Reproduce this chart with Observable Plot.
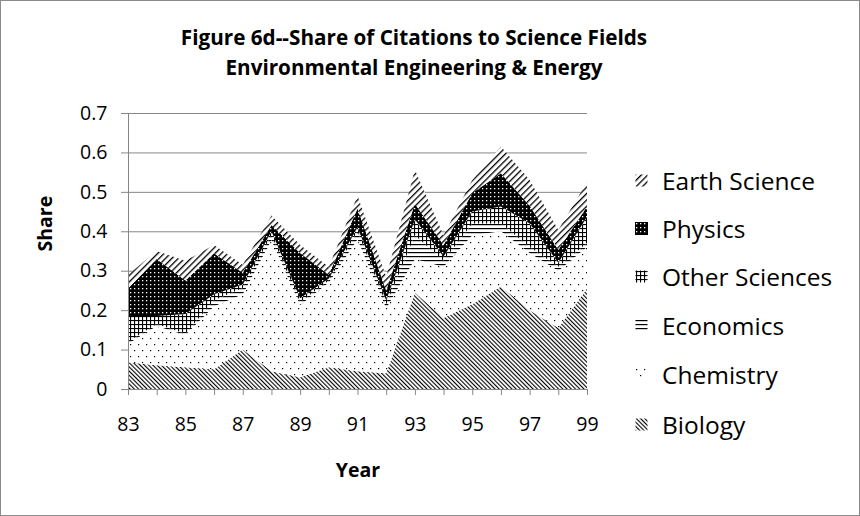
<!DOCTYPE html>
<html>
<head>
<meta charset="utf-8">
<script src="https://cdn.jsdelivr.net/npm/d3@7"></script>
<script src="https://cdn.jsdelivr.net/npm/@observablehq/plot@0.6"></script>
<style>
  html, body { margin: 0; padding: 0; background: #fff; }
  #frame { position: absolute; left: 0; top: 0; width: 858px; height: 514px; border: 1px solid #8a8a8a; background: #fff; font-family: "Open Sans", sans-serif; color: #000; }
  #title { position: absolute; left: 0; width: 826px; top: 21px; text-align: center; font-weight: bold; font-size: 20.7px; line-height: 30px; }
  #chart { position: absolute; left: 0; top: 90px; }
  #legend { position: absolute; left: 634px; top: 0; }
  .item { position: absolute; left: 0; height: 30px; display: flex; align-items: center; white-space: nowrap; font-size: 24.5px; }
  .item svg { margin-right: 14px; }
</style>
</head>
<body>
<div id="frame">
  <div id="title">Figure 6d--Share of Citations to Science Fields<br>Environmental Engineering &amp; Energy</div>
  <div id="chart"></div>
  <div id="legend"></div>
</div>
<script>
// ---- data ----
const years = [83, 84, 85, 86, 87, 88, 89, 90, 91, 92, 93, 94, 95, 96, 97, 98, 99];
const fields = ["Biology", "Chemistry", "Economics", "Other Sciences", "Physics", "Earth Science"];
const biology       = [0.068, 0.060, 0.055, 0.050, 0.100, 0.045, 0.030, 0.055, 0.045, 0.040, 0.245, 0.180, 0.215, 0.260, 0.200, 0.155, 0.255];
const chemistry     = [0.047, 0.100, 0.082, 0.160, 0.140, 0.333, 0.183, 0.215, 0.335, 0.165, 0.085, 0.130, 0.175, 0.140, 0.145, 0.145, 0.105];
const economics     = [0.005, 0.005, 0.003, 0.015, 0.016, 0.012, 0.007, 0.005, 0.020, 0.010, 0.060, 0.015, 0.030, 0.020, 0.015, 0.010, 0.010];
const otherSciences = [0.065, 0.020, 0.050, 0.015, 0.009, 0.010, 0.010, 0.005, 0.010, 0.010, 0.040, 0.011, 0.030, 0.043, 0.060, 0.010, 0.067];
const physics       = [0.070, 0.145, 0.085, 0.104, 0.030, 0.016, 0.115, 0.010, 0.048, 0.025, 0.040, 0.029, 0.047, 0.084, 0.045, 0.033, 0.026];
const earthScience  = [0.035, 0.020, 0.050, 0.021, 0.020, 0.024, 0.020, 0.020, 0.032, 0.035, 0.086, 0.025, 0.033, 0.068, 0.065, 0.050, 0.062];
const yTicks = [0, 0.1, 0.2, 0.3, 0.4, 0.5, 0.6, 0.7];
const legendOrder = ["Earth Science", "Physics", "Other Sciences", "Economics", "Chemistry", "Biology"];

const seriesByField = {
  "Biology": biology, "Chemistry": chemistry, "Economics": economics,
  "Other Sciences": otherSciences, "Physics": physics, "Earth Science": earthScience
};
const patternId = {
  "Biology": "pat-bio", "Chemistry": "pat-chem", "Economics": "pat-econ",
  "Other Sciences": "pat-other", "Physics": "pat-phys", "Earth Science": "pat-earth"
};
const data = years.flatMap((yr, i) => fields.map(f => ({year: yr, field: f, value: seriesByField[f][i]})));

const defs = `
<defs>
  <pattern id="pat-bio" width="3" height="3" patternUnits="userSpaceOnUse" patternTransform="rotate(-45)">
    <rect width="3" height="3" fill="#fff"/><rect x="0" y="0" width="1.1" height="3" fill="#000"/>
  </pattern>
  <pattern id="pat-chem" width="8" height="12" patternUnits="userSpaceOnUse">
    <rect width="8" height="12" fill="#fff"/><rect x="1" y="1" width="1.2" height="1.2" fill="#000"/><rect x="5" y="7" width="1.2" height="1.2" fill="#000"/>
  </pattern>
  <pattern id="pat-econ" width="4" height="4" patternUnits="userSpaceOnUse">
    <rect width="4" height="4" fill="#fff"/><rect x="0" y="1" width="4" height="1.2" fill="#000"/>
  </pattern>
  <pattern id="pat-other" width="4" height="4" patternUnits="userSpaceOnUse">
    <rect width="4" height="4" fill="#fff"/><rect x="0" y="1" width="4" height="1.1" fill="#000"/><rect x="1" y="0" width="1.1" height="4" fill="#000"/>
  </pattern>
  <pattern id="pat-phys" width="4" height="4" patternUnits="userSpaceOnUse">
    <rect width="4" height="4" fill="#000"/><rect x="1" y="1" width="1.3" height="1.3" fill="#fff"/>
  </pattern>
  <pattern id="pat-earth" width="4.5" height="4.5" patternUnits="userSpaceOnUse" patternTransform="rotate(45)">
    <rect width="4.5" height="4.5" fill="#fff"/><rect x="0" y="0" width="1.3" height="4.5" fill="#000"/>
  </pattern>
</defs>`;

const gridColor = "#868686";
const chart = Plot.plot({
  width: 620,
  height: 424,
  marginLeft: 127,
  marginRight: 34,
  marginTop: 22,
  marginBottom: 126,
  style: {fontFamily: "'Open Sans', sans-serif", fontSize: "19.5px", color: "#000", background: "transparent", overflow: "visible"},
  x: {domain: [83, 99], label: null},
  y: {domain: [0, 0.7], label: null},
  color: {type: "ordinal", domain: fields, range: fields.map(f => `url(#${patternId[f]})`)},
  marks: [
    Plot.gridY(yTicks, {stroke: gridColor, strokeOpacity: 1, strokeWidth: 1}),
    Plot.areaY(data, Plot.stackY({order: fields}, {x: "year", y: "value", z: "field", fill: "field"})),
    Plot.ruleX([83], {stroke: gridColor, strokeWidth: 1}),
    Plot.ruleY([0], {stroke: gridColor, strokeWidth: 1}),
    Plot.axisY(yTicks, {tickSize: 7, tickPadding: 14, stroke: gridColor, tickFormat: d => d === 0 ? "0" : d.toFixed(1), label: null}),
    Plot.axisX(years, {tickSize: 6, tickPadding: 22, stroke: gridColor, tickFormat: d => d % 2 ? String(d) : "", label: null}),
    Plot.text(["Year"], {text: d => d, frameAnchor: "bottom", dy: 87, fontWeight: "bold", fontSize: 19.5}),
    Plot.text(["Share"], {text: d => d, frameAnchor: "left", dx: -83, rotate: -90, fontWeight: "bold", fontSize: 19.5})
  ]
});
chart.insertAdjacentHTML("afterbegin", defs);
document.getElementById("chart").appendChild(chart);

// legend
const legend = document.getElementById("legend");
const rowY = [180, 228, 276, 325, 374, 424];
legendOrder.forEach((f, i) => {
  const div = document.createElement("div");
  div.className = "item";
  div.style.top = (rowY[i] - 16) + "px";
  div.innerHTML = `<svg width="13" height="13"><rect x="0.5" y="0.5" width="12" height="12" fill="url(#${patternId[f]})" ${f === "Physics" ? 'stroke="#000"' : ''}/></svg><span>${f}</span>`;
  legend.appendChild(div);
});
</script>
</body>
</html>
